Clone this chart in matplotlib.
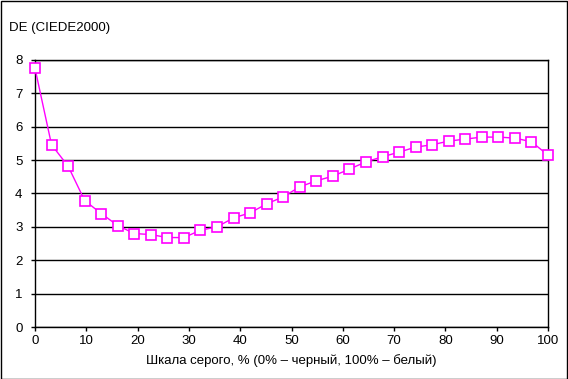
import matplotlib
matplotlib.use("Agg")
import matplotlib.pyplot as plt
from matplotlib.patches import Rectangle
import numpy as np

plt.rcParams['font.family'] = ['Liberation Sans', 'DejaVu Sans']

# Data
gray_percent = [i * 100 / 31 for i in range(32)]
de_values = [7.75, 5.46, 4.82, 3.79, 3.40, 3.04, 2.80, 2.77, 2.68, 2.68,
             2.90, 3.00, 3.27, 3.42, 3.69, 3.90, 4.20, 4.38, 4.52, 4.73,
             4.95, 5.10, 5.24, 5.39, 5.46, 5.57, 5.63, 5.69, 5.69, 5.66,
             5.55, 5.15]
x_ticks = list(range(0, 101, 10))
y_ticks = list(range(0, 9))
title = "DE (CIEDE2000)"
xlabel = "Шкала серого, % (0% – черный, 100% – белый)"

fig = plt.figure(figsize=(5.68, 3.79), dpi=100)
ax = fig.add_axes([35/568, 1-327/379, (548-35)/568, (327-60)/379])

ax.plot(gray_percent, de_values, color='#FF00FF', linewidth=1.0,
        marker='s', markersize=6.5, markerfacecolor='white',
        markeredgecolor='#FF00FF', markeredgewidth=1.2, zorder=3, clip_on=False)

ax.set_xlim(0, 100)
ax.set_ylim(0, 8)
ax.set_xticks(x_ticks)
ax.set_yticks(y_ticks)
ax.tick_params(axis='both', direction='out', length=3, width=1, color='black',
               labelsize=9.5)
ax.tick_params(axis='y', pad=6)
ax.tick_params(axis='x', pad=3)
ax.grid(axis='y', color='black', linewidth=1)
ax.set_axisbelow(True)
for s in ax.spines.values():
    s.set_color('black')
    s.set_linewidth(1)

ax.set_xlabel(xlabel, fontsize=9.5, labelpad=5)
fig.text(9/568, 1-28/379, title, fontsize=9.5, ha='left', va='center')

fig.patches.append(Rectangle((0.001, 0.001), 0.997, 0.996, transform=fig.transFigure,
                             fill=False, edgecolor='black', linewidth=1))

fig.savefig("out.png", dpi=100)
